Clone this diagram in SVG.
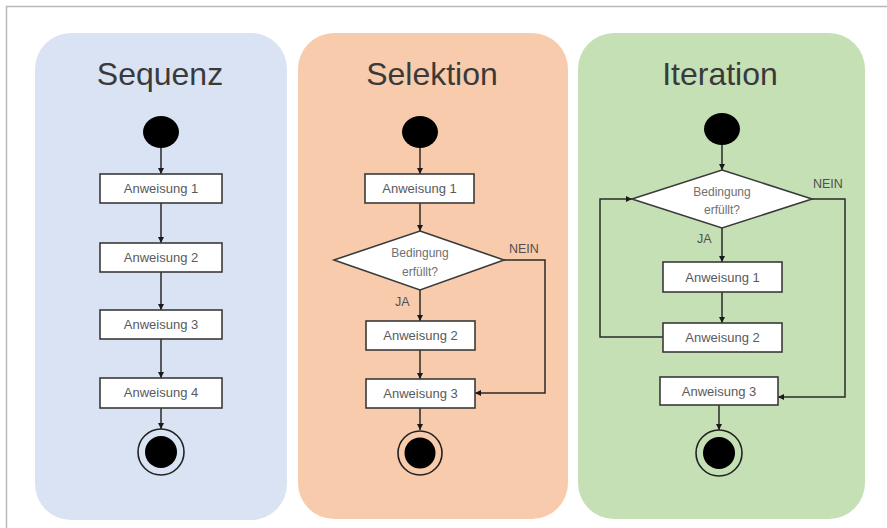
<svg xmlns="http://www.w3.org/2000/svg" width="887" height="528" viewBox="0 0 887 528">
<defs>
<marker id="ah" viewBox="0 0 10 10" refX="10" refY="5" markerWidth="6" markerHeight="6" markerUnits="userSpaceOnUse" orient="auto">
<path d="M0,0 L10,5 L0,10 z" fill="#1a1a1a"/>
</marker>
<style>
.panel{stroke:none}
.title{font-family:"Liberation Sans",Arial,sans-serif;font-size:32px;fill:#3a3a3a;text-anchor:middle}
.box{fill:#ffffff;stroke:#3a3a3a;stroke-width:1.6}
.bt{font-family:"Liberation Sans",Arial,sans-serif;font-size:13px;fill:#5a5a5a;text-anchor:middle}
.dt{font-family:"Liberation Sans",Arial,sans-serif;font-size:12px;fill:#707070;text-anchor:middle}
.lbl{font-family:"Liberation Sans",Arial,sans-serif;font-size:12.5px;fill:#505050;}
.con{fill:none;stroke:#2a2a2a;stroke-width:1.5;marker-end:url(#ah)}
.start{fill:#000}
.endo{fill:none;stroke:#222;stroke-width:1.6}
</style>
</defs>
<rect width="887" height="528" fill="#ffffff"/>
<path d="M6.5,528 V6.5 H887" fill="none" stroke="#b8b8b8" stroke-width="1.5"/>

<g id="panel-sequenz">
<rect class="panel" x="35" y="33" width="252" height="487" rx="36" fill="#dae3f3"/>
<text class="title" x="160" y="85">Sequenz</text>
</g>
<g id="panel-selektion">
<rect class="panel" x="298" y="33" width="270" height="486" rx="36" fill="#f8cbad"/>
<text class="title" x="432" y="85">Selektion</text>
</g>
<g id="panel-iteration">
<rect class="panel" x="578" y="33" width="287" height="486" rx="36" fill="#c5e0b4"/>
<text class="title" x="720" y="85">Iteration</text>
</g>

<g id="connectors">
<line class="con" x1="161" y1="148" x2="161" y2="174"/>
<line class="con" x1="161" y1="203" x2="161" y2="243"/>
<line class="con" x1="161" y1="272" x2="161" y2="310"/>
<line class="con" x1="161" y1="339" x2="161" y2="378"/>
<line class="con" x1="161" y1="408" x2="161" y2="429"/>
<line class="con" x1="420" y1="148" x2="420" y2="174"/>
<line class="con" x1="420" y1="203" x2="420" y2="231"/>
<line class="con" x1="420" y1="290" x2="420" y2="321"/>
<line class="con" x1="420" y1="350" x2="420" y2="379"/>
<polyline class="con" points="504,260 545,260 545,393 475,393"/>
<line class="con" x1="420" y1="408" x2="420" y2="430"/>
<line class="con" x1="722" y1="144" x2="722" y2="170"/>
<line class="con" x1="722" y1="228" x2="722" y2="262"/>
<line class="con" x1="722" y1="292" x2="722" y2="323"/>
<polyline class="con" points="663,337 600,337 600,199 632,199"/>
<polyline class="con" points="812,199 845,199 845,397 778,397"/>
<line class="con" x1="719" y1="405" x2="719" y2="430"/>
</g>

<g id="seq-start"><ellipse class="start" cx="161" cy="132" rx="18" ry="16"/></g>
<g id="seq-a1"><rect class="box" x="100" y="174" width="122" height="29"/><text class="bt" x="161" y="193">Anweisung 1</text></g>
<g id="seq-a2"><rect class="box" x="100" y="243" width="122" height="29"/><text class="bt" x="161" y="262">Anweisung 2</text></g>
<g id="seq-a3"><rect class="box" x="100" y="310" width="122" height="29"/><text class="bt" x="161" y="329">Anweisung 3</text></g>
<g id="seq-a4"><rect class="box" x="100" y="378" width="122" height="30"/><text class="bt" x="161" y="397">Anweisung 4</text></g>
<g id="seq-end"><circle class="endo" cx="161" cy="452" r="23"/><circle cx="161" cy="452" r="16" fill="#000"/></g>

<g id="sel-start"><ellipse class="start" cx="420" cy="132" rx="18" ry="16"/></g>
<g id="sel-a1"><rect class="box" x="365" y="174" width="109" height="29"/><text class="bt" x="419.5" y="193">Anweisung 1</text></g>
<g id="sel-cond"><polygon class="box" points="420,231 504,260 420,290 334,260"/><text class="dt" x="420" y="257">Bedingung</text><text class="dt" x="420" y="276">erfüllt?</text></g>
<g id="sel-a2"><rect class="box" x="366" y="321" width="109" height="29"/><text class="bt" x="420.5" y="340">Anweisung 2</text></g>
<g id="sel-a3"><rect class="box" x="366" y="379" width="109" height="29"/><text class="bt" x="420.5" y="398">Anweisung 3</text></g>
<g id="sel-end"><circle class="endo" cx="420" cy="453" r="22"/><circle cx="420" cy="453" r="15.5" fill="#000"/></g>
<text class="lbl" x="509" y="253">NEIN</text>
<text class="lbl" x="395" y="306">JA</text>

<g id="it-start"><ellipse class="start" cx="722" cy="129" rx="18" ry="16"/></g>
<g id="it-cond"><polygon class="box" points="722,170 812,199 722,228 632,199"/><text class="dt" x="722" y="196">Bedingung</text><text class="dt" x="722" y="214">erfüllt?</text></g>
<g id="it-a1"><rect class="box" x="663" y="262" width="119" height="30"/><text class="bt" x="722.5" y="282">Anweisung 1</text></g>
<g id="it-a2"><rect class="box" x="663" y="323" width="119" height="29"/><text class="bt" x="722.5" y="342">Anweisung 2</text></g>
<g id="it-a3"><rect class="box" x="660" y="377" width="118" height="28"/><text class="bt" x="719" y="396">Anweisung 3</text></g>
<g id="it-end"><circle class="endo" cx="719" cy="453" r="23"/><circle cx="719" cy="453" r="16" fill="#000"/></g>
<text class="lbl" x="813" y="188">NEIN</text>
<text class="lbl" x="697" y="243">JA</text>
</svg>
